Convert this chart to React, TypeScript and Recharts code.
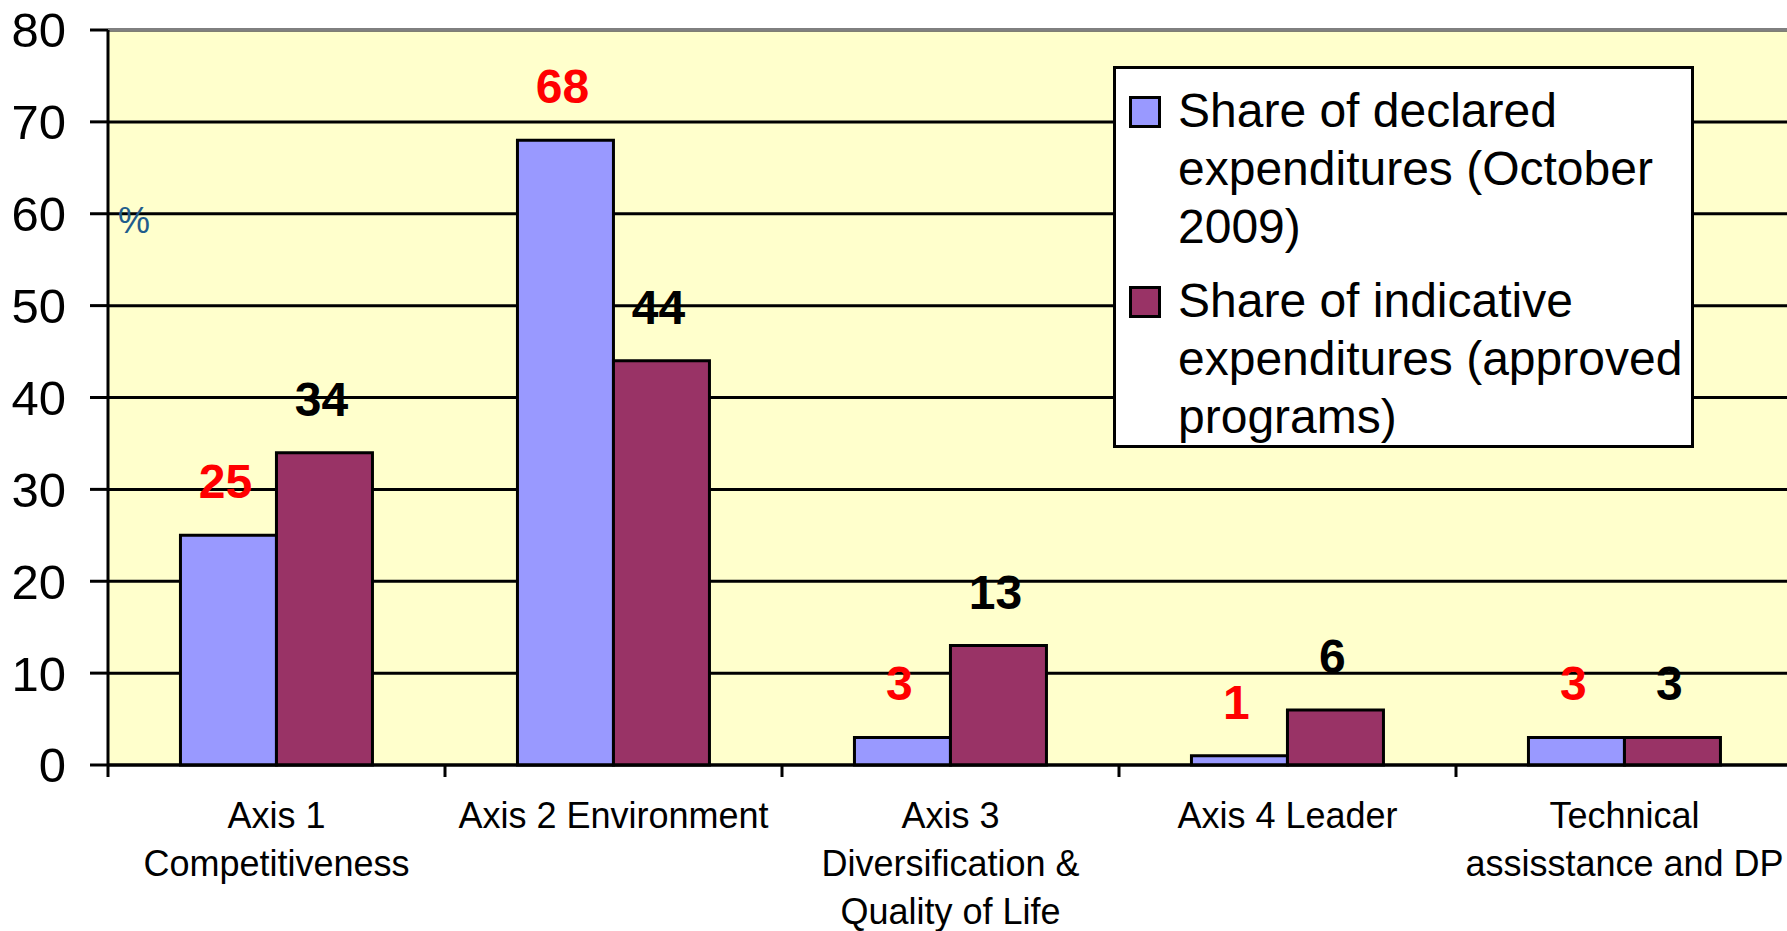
import React from 'react';
import { BarChart, Bar, XAxis, YAxis, CartesianGrid, ReferenceLine, LabelList } from 'recharts';

const categories = [
  'Axis 1\nCompetitiveness',
  'Axis 2 Environment',
  'Axis 3\nDiversification &\nQuality of Life',
  'Axis 4 Leader',
  'Technical\nassisstance and DP',
];
const declaredShare = [25, 68, 3, 1, 3];
const indicativeShare = [34, 44, 13, 6, 3];
const yTicks = [0, 10, 20, 30, 40, 50, 60, 70, 80];
const seriesLines = [
  ['Share of declared', 'expenditures (October', '2009)'],
  ['Share of indicative', 'expenditures (approved', 'programs)'],
];
const seriesColors = ['#9999FF', '#993366'];
const labelColors = ['#FF0000', '#000000'];

const data = categories.map((name, i) => ({
  name,
  declared: declaredShare[i],
  indicative: indicativeShare[i],
}));

const CHART_W = 1793;
const CHART_H = 931;
const PLOT_LEFT = 108;
const TICK_LEN = 12;
const BAND = (CHART_W - PLOT_LEFT) / categories.length;
const FONT = '"Liberation Sans", Arial, sans-serif';

function CategoryTick(props: any) {
  const { x, y, payload } = props;
  const lines = String(payload.value).split('\n');
  const axisY = y - TICK_LEN;
  return (
    <g>
      <line x1={x - BAND / 2} x2={x - BAND / 2} y1={axisY} y2={axisY + TICK_LEN} stroke="#000" strokeWidth={3} />
      <text x={x} y={y + 51} textAnchor="middle" fontSize={36} fill="#000" fontFamily={FONT}>
        {lines.map((l, i) => (
          <tspan key={i} x={x} dy={i === 0 ? 0 : 48}>
            {l}
          </tspan>
        ))}
      </text>
    </g>
  );
}

function valueLabel(color: string) {
  return (props: any) => {
    const { x, y, width, value } = props;
    return (
      <text
        x={Number(x) + Number(width) / 2 - 3}
        y={Number(y) - 37}
        textAnchor="middle"
        fontSize={48}
        fontWeight="bold"
        fill={color}
        fontFamily={FONT}
      >
        {value}
      </text>
    );
  };
}

export default function App() {
  return (
    <div
      style={{
        position: 'fixed',
        left: 0,
        top: 0,
        width: 1787,
        height: 931,
        overflow: 'hidden',
        background: '#fff',
        fontFamily: FONT,
      }}
    >
      <BarChart
        width={CHART_W}
        height={CHART_H}
        data={data}
        margin={{ top: 30, right: 0, left: 0, bottom: 0 }}
        barCategoryGap="21.5%"
        barGap={0}
        style={{ fontFamily: FONT }}
      >
        <CartesianGrid vertical={false} stroke="#000" strokeWidth={3} fill="#FFFFCC" fillOpacity={1} />
        <ReferenceLine y={80} stroke="#808080" strokeWidth={3} />
        <XAxis
          dataKey="name"
          height={166}
          interval={0}
          tickSize={TICK_LEN}
          tickMargin={0}
          tickLine={false}
          axisLine={{ stroke: '#000', strokeWidth: 3 }}
          tick={<CategoryTick />}
        />
        <YAxis
          width={PLOT_LEFT}
          domain={[0, 80]}
          ticks={yTicks}
          interval={0}
          tickSize={18}
          tickMargin={24}
          tickLine={{ stroke: '#000', strokeWidth: 3 }}
          axisLine={{ stroke: '#000', strokeWidth: 3 }}
          tick={{ fill: '#000', fontSize: 49, fontFamily: FONT }}
        />
        <Bar dataKey="declared" fill={seriesColors[0]} stroke="#000" strokeWidth={3} isAnimationActive={false}>
          <LabelList dataKey="declared" content={valueLabel(labelColors[0])} />
        </Bar>
        <Bar dataKey="indicative" fill={seriesColors[1]} stroke="#000" strokeWidth={3} isAnimationActive={false}>
          <LabelList dataKey="indicative" content={valueLabel(labelColors[1])} />
        </Bar>
      </BarChart>
      <div
        style={{
          position: 'absolute',
          left: 118,
          top: 203,
          fontSize: 36,
          lineHeight: '36px',
          color: '#1F5D8C',
        }}
      >
        %
      </div>
      <div
        style={{
          position: 'absolute',
          left: 1113,
          top: 66,
          width: 581,
          height: 382,
          boxSizing: 'border-box',
          background: '#fff',
          border: '3px solid #000',
          paddingTop: 13,
        }}
      >
        {seriesLines.map((lines, i) => (
          <div key={i} style={{ position: 'relative', paddingLeft: 62, marginBottom: i === 0 ? 16 : 0 }}>
            <div
              style={{
                position: 'absolute',
                left: 13,
                top: 14,
                width: 26,
                height: 26,
                background: seriesColors[i],
                border: '3px solid #000',
              }}
            />
            {lines.map((l, j) => (
              <div key={j} style={{ fontSize: 48, lineHeight: '58px', whiteSpace: 'nowrap', color: '#000' }}>
                {l}
              </div>
            ))}
          </div>
        ))}
      </div>
    </div>
  );
}
